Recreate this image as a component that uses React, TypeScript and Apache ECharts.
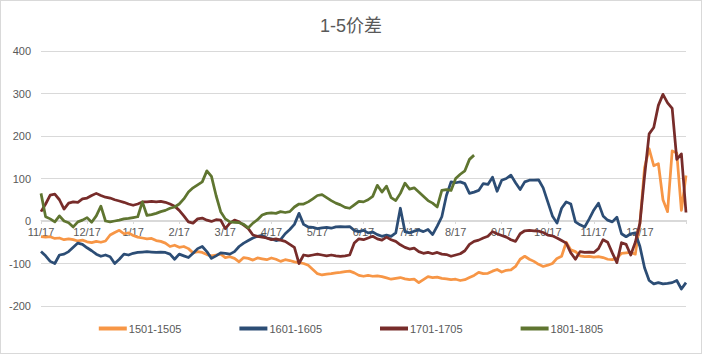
import React, { useEffect, useRef } from "react";
import * as echarts from "echarts";

// Month tick labels (one every 10 points)
const tickLabels = ["11/17", "12/17", "1/17", "2/17", "3/17", "4/17", "5/17", "6/17", "7/17", "8/17", "9/17", "10/17", "11/17", "12/17"];
const POINTS_PER_MONTH = 10;

const s1501: number[] = [
  -37, -38, -37, -41, -40, -44, -42, -44, -47, -45,
  -49, -51, -48, -50, -47, -33, -27, -22, -30, -28,
  -34, -38, -40, -42, -41, -46, -48, -52, -60, -57,
  -62, -60, -65, -75, -72, -74, -79, -82, -80, -78,
  -86, -84, -88, -96, -86, -88, -92, -87, -89, -91,
  -87, -90, -95, -91, -93, -96, -98, -100, -104, -114,
  -124, -127, -125, -124, -122, -121, -119, -118, -122, -128,
  -130, -128, -130, -129, -131, -134, -137, -135, -133, -136,
  -138, -137, -145, -138, -131, -133, -132, -135, -136, -138,
  -137, -140, -138, -133, -128, -121, -124, -123, -118, -114,
  -120, -116, -115, -107, -90, -83, -90, -95, -102, -107,
  -104, -100, -88, -83, -50, -68, -72, -82, -84, -83,
  -85, -84, -86, -90, -91, -88, -76, -75, -74, -78,
  -5, 125, 170, 130, 135, 50, 22, 165, 160, 25,
  107,
];

const s1601: number[] = [
  -72, -82, -95, -100, -80, -78, -72, -62, -52, -55,
  -63, -70, -78, -83, -80, -84, -100, -90, -78, -80,
  -76, -74, -73, -72, -73, -74, -73, -74, -78, -90,
  -78, -82, -86, -76, -65, -60, -72, -88, -82, -75,
  -76, -78, -72, -60, -52, -46, -40, -36, -34, -40,
  -42, -46, -44, -30, -20, -8, 18, -8, -14, -15,
  -18, -16, -15, -17, -14, -13, -14, -13, -22, -25,
  -22, -28, -26, -32, -36, -33, -36, -28, 30, -25,
  -28, -24, -21, -25, -20, -32, -12, 10, 60, 92,
  90, 92, 88, 65, 68, 72, 88, 86, 103, 70,
  96, 100, 108, 90, 74, 92, 96, 96, 97, 78,
  45, 12, -5, 30, 45, 40, -2, -9, -14, 5,
  26, 42, 12, 2, -2, 9, -30, -37, -30, -28,
  -60, -110, -140, -148, -145, -148, -147, -145, -140, -160,
  -145,
];

const s1701: number[] = [
  22, 40, 61, 63, 50, 28, 42, 45, 44, 52,
  54, 60, 65, 60, 56, 54, 50, 47, 44, 40,
  37, 40, 45, 45, 46, 45, 46, 44, 40, 35,
  25, 12, -2, -5, 5, 7, 2, -1, 3, 2,
  -18, -5, 2, -2, -10, -18, -33, -36, -38, -40,
  -44, -42, -45, -48, -55, -62, -100, -80, -82, -80,
  -78, -80, -82, -80, -82, -83, -82, -80, -52, -42,
  -44, -40, -36, -42, -45, -38, -44, -48, -56, -62,
  -66, -64, -72, -76, -74, -77, -74, -78, -79, -83,
  -80, -77, -70, -55, -48, -45, -40, -36, -25, -30,
  -34, -38, -44, -48, -30, -23, -22, -23, -24, -27,
  -33, -35, -40, -46, -52, -75, -90, -72, -74, -73,
  -74, -65, -44, -50, -75, -98, -51, -55, -80, -50,
  -5, 105, 205, 220, 272, 298, 278, 265, 145, 158,
  20,
];

const s1801: number[] = [
  65, 10, 5, -2, 12, 0, -4, -14, -2, 2,
  8, -3, 12, 35, 0, -2, 0, 2, 5, 6,
  8, 10, 45, 13, 15, 18, 22, 25, 30, 33,
  40, 52, 68, 78, 85, 92, 118, 105, 60, 22,
  5, -2, -3, -4, -8, -16, -5, 3, 14, 18,
  19, 18, 22, 20, 22, 33, 40, 40, 45, 52,
  60, 62, 55, 48, 42, 38, 32, 30, 38, 46,
  45, 50, 58, 84, 68, 82, 55, 48, 65, 89,
  75, 78, 68, 58, 48, 42, 33, 72, 74, 72,
  100, 110, 118, 145, 155,
];

const seriesNames = ["1501-1505", "1601-1605", "1701-1705", "1801-1805"];
const seriesColors = ["#F79646", "#2C4D75", "#772C2A", "#5F7530"];
const seriesData = [s1501, s1601, s1701, s1801];

const categories = Array.from({ length: s1501.length }, (_, i) => String(i));

const Y_MIN = -200;
const Y_MAX = 400;
const GRID_TOP = 50;
const GRID_BOTTOM = 47;
const CHART_H = 354;

const FONT = "'Liberation Sans', 'Noto Sans CJK SC', sans-serif";

export default function App() {
  const ref = useRef<HTMLDivElement>(null);
  useEffect(() => {
    if (!ref.current) return;
    const chart = echarts.init(ref.current, undefined, { renderer: "svg" });
    const plotH = CHART_H - GRID_TOP - GRID_BOTTOM;
    const zeroOffset = -Math.round((-Y_MIN / (Y_MAX - Y_MIN)) * plotH);
    chart.setOption({
      animation: false,
      backgroundColor: "#ffffff",
      title: {
        text: "1-5价差",
        left: "center",
        top: 11,
        textStyle: { fontFamily: FONT, fontSize: 18, fontWeight: "normal", color: "#595959" },
      },
      legend: {
        bottom: 14,
        left: "center",
        itemGap: 58,
        itemWidth: 28,
        itemHeight: 4,
        icon: "rect",
        textStyle: { fontFamily: FONT, fontSize: 11, color: "#595959", padding: [0, 0, 0, -3] },
        data: seriesNames,
      },
      grid: { left: 40, right: 15, top: GRID_TOP, bottom: GRID_BOTTOM, containLabel: false },
      xAxis: {
        type: "category",
        data: categories,
        boundaryGap: false,
        position: "bottom",
        offset: zeroOffset,
        axisLine: { onZero: false, lineStyle: { color: "#D9D9D9", width: 1 } },
        axisTick: {
          show: true,
          length: 4,
          interval: (i: number) => i % POINTS_PER_MONTH === 0,
          lineStyle: { color: "#D9D9D9" },
        },
        axisLabel: {
          interval: (i: number) => i % POINTS_PER_MONTH === 0 && i / POINTS_PER_MONTH < tickLabels.length,
          formatter: (_v: string, i: number) =>
            i % POINTS_PER_MONTH === 0 ? tickLabels[i / POINTS_PER_MONTH] ?? "" : "",
          color: "#595959",
          fontFamily: FONT,
          fontSize: 11,
          margin: 6,
          hideOverlap: false,
        },
        splitLine: { show: false },
      },
      yAxis: {
        type: "value",
        min: Y_MIN,
        max: Y_MAX,
        interval: 100,
        axisLine: { show: false },
        axisTick: { show: false },
        axisLabel: { color: "#595959", fontFamily: FONT, fontSize: 11, margin: 10 },
        splitLine: { lineStyle: { color: "#D9D9D9", width: 1 } },
      },
      series: seriesData.map((d, k) => ({
        name: seriesNames[k],
        type: "line",
        data: d,
        showSymbol: false,
        symbol: "none",
        lineStyle: { color: seriesColors[k], width: 2.75, join: "round" },
        itemStyle: { color: seriesColors[k] },
      })),
    });
    return () => chart.dispose();
  }, []);
  return (
    <div
      ref={ref}
      style={{
        position: "fixed",
        left: 0,
        top: 0,
        width: 702,
        height: 354,
        boxSizing: "border-box",
        border: "1px solid #D9D9D9",
        background: "#fff",
      }}
    />
  );
}
